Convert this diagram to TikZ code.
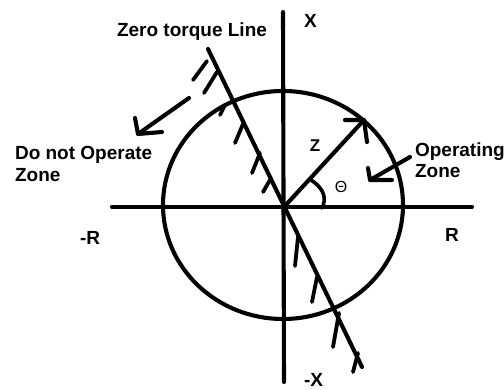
\documentclass[tikz,border=0pt]{standalone}
\usepackage{fontspec}
\setmainfont{Liberation Sans}
\begin{document}
\begin{tikzpicture}[x=1pt,y=-1pt, line width=4.1pt, line cap=round, line join=round,
  lbl/.style={font=\bfseries\fontsize{19}{22}\selectfont, inner sep=0pt, anchor=base west},
  hatch/.style={line width=3.8pt}]
\useasboundingbox (0,0) rectangle (504,390);
\fill[white] (0,0) rectangle (504,390);
% axes
\coordinate (O) at (284,207);
\coordinate (Xt) at (283,12);
\coordinate (Xb) at (284,382);
\coordinate (Rl) at (112,207);
\coordinate (Rr) at (472,207);
\draw (Xt) -- (Xb);
\draw (Rl) -- (Rr);
% circle
\coordinate (C) at (283,205);
\draw (C) ellipse [x radius=120, y radius=114];
% zero torque line
\coordinate (Lt) at (208,49);
\coordinate (Lb) at (362,367);
\draw (Lt) -- (Lb);
% hatches
\foreach \a/\b/\c/\d in {207/61/193/80, 217/72/204/93, 225/105/220/115, 243/124/235/143, 260/153/252/173, 270/180/263/192,
  298/237/295/266, 317/277/312/302, 339/313/333/347, 358/353/353/372}
  \draw[hatch] (\a,\b) -- (\c,\d);
% Z vector
\coordinate (Zt) at (364,120);
\draw (O) -- (Zt);
\draw (345,120) -- (Zt) -- (367,142);
% angle arc
\draw[line width=3.6pt] (311,180) .. controls (326,190) and (326,200) .. (322,208);
% Do not operate arrow
\coordinate (Da) at (189,98);
\coordinate (Db) at (138,134);
\draw (Da) -- (Db);
\draw (135,118) -- (Db) -- (162,132);
% operating arrow
\coordinate (Oa) at (410,157);
\coordinate (Ob) at (370,180);
\draw (Oa) -- (Ob);
\draw (368,168) -- (Ob) -- (392,180);
% labels
\node[lbl] (zt) at (115,37) {Zero torque Line};
\node[lbl] (dno) at (13,160) {Do not Operate};
\node[lbl] (dnz) at (13,182) {Zone};
\node[lbl] (op) at (413,157) {Operating};
\node[lbl] (opz) at (413,178) {Zone};
\node[lbl] (xp) at (302,28) {X};
\node[lbl] (xm) at (302,387) {-X};
\node[lbl] (rp) at (443,242) {R};
\node[lbl] (rm) at (78,245) {-R};
\node[font=\bfseries\fontsize{17}{20}\selectfont, inner sep=0pt] (z) at (315,146) {Z};
\node[font=\fontsize{16}{18}\selectfont, inner sep=0pt] (th) at (341,187) {Θ};
\end{tikzpicture}
\end{document}
